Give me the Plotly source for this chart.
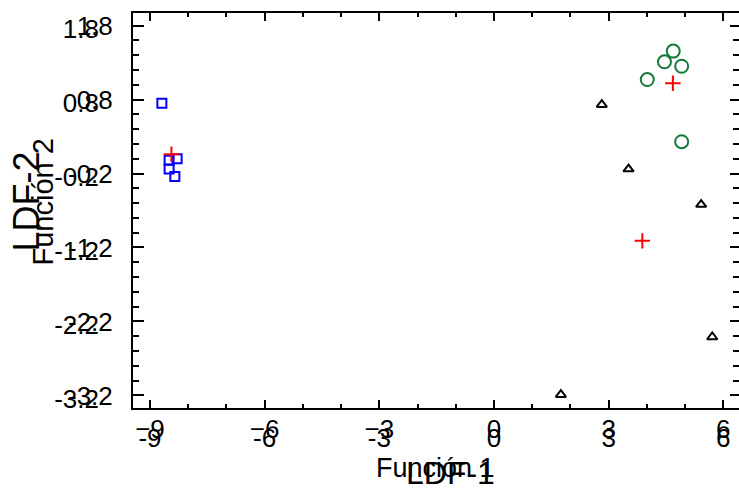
import plotly.graph_objects as go

# ---- data ----
g1_x = [-8.69, -8.29, -8.50, -8.50, -8.35]
g1_y = [0.75, 0.00, -0.02, -0.14, -0.24]
g2_x = [4.69, 4.46, 4.91, 4.01, 4.91]
g2_y = [1.455, 1.31, 1.25, 1.07, 0.23]
g3_x = [2.82, 3.52, 5.42, 5.71, 1.75]
g3_y = [0.73, -0.14, -0.62, -2.41, -3.19]
cent_x = [-8.44, 4.68, 3.88]
cent_y = [0.06, 1.02, -1.11]

x_ticks = [-9, -6, -3, 0, 3, 6]
x_text_a = ["\u22129", "\u22126", "\u22123", "0", "3", "6"]
x_text_b = ["-9", "-6", "-3", "0", "3", "6"]
y_ticks = [1.8, 0.8, -0.2, -1.2, -2.2, -3.2]
y_text_a = ["1.8", "0.8", "-0.2", "-1.2", "-2.2", "-3.2"]
y_text_b = ["1.8", "0.8", "-0.2", "-1.2", "-2.2", "-3.2"]

x_title_a = "LDF-1"
x_title_b = "Función 1"
y_title_a = "LDF-2"
y_title_b = "Función 2"

X_RANGE = [-9.445, 6.41]
Y_RANGE = [-3.37, 1.97]
FONT = "Liberation Sans, Arial, sans-serif"

fig = go.Figure()
fig.add_trace(go.Scatter(x=g1_x, y=g1_y, mode="markers",
                         marker=dict(symbol="square-open", size=9, color="#0000ff",
                                     line=dict(width=2, color="#0000ff"))))
fig.add_trace(go.Scatter(x=g2_x, y=g2_y, mode="markers",
                         marker=dict(symbol="circle-open", size=13, color="#137a3a",
                                     line=dict(width=2, color="#137a3a"))))
fig.add_trace(go.Scatter(x=g3_x, y=g3_y, mode="markers",
                         marker=dict(symbol="triangle-up-open", size=9, color="#000000",
                                     line=dict(width=2, color="#000000"))))
fig.add_trace(go.Scatter(x=cent_x, y=cent_y, mode="markers",
                         marker=dict(symbol="cross-thin-open", size=11, color="#ff0000",
                                     line=dict(width=2, color="#ff0000"))))

fig.update_layout(
    width=739, height=488,
    margin=dict(l=133, r=0, t=13, b=80),
    paper_bgcolor="white", plot_bgcolor="white",
    showlegend=False,
    font=dict(family=FONT, color="black"),
    xaxis=dict(range=X_RANGE, showgrid=False, zeroline=False,
               showline=True, linewidth=2, linecolor="black", mirror="ticks",
               ticks="inside", ticklen=8, tickwidth=2, tickcolor="black",
               tickvals=x_ticks, ticktext=x_text_a,
               tickfont=dict(size=26, family=FONT),
               ticklabelstandoff=-3,
               minor=dict(ticks="inside", dtick=1, ticklen=4, tickwidth=2, tickcolor="black")),
    xaxis2=dict(range=X_RANGE, overlaying="x", side="bottom", anchor="y",
                showgrid=False, zeroline=False, showline=False, ticks="",
                tickvals=x_ticks, ticktext=x_text_b,
                tickfont=dict(size=26, family=FONT),
                ticklabelstandoff=12),
    yaxis=dict(range=Y_RANGE, showgrid=False, zeroline=False,
               showline=True, linewidth=2, linecolor="black",
               ticks="inside", ticklen=11, tickwidth=2, tickcolor="black",
               tickvals=y_ticks, ticktext=y_text_a,
               tickfont=dict(size=26, family=FONT),
               ticklabelstandoff=13,
               minor=dict(ticks="inside", dtick=0.2, ticklen=6, tickwidth=2, tickcolor="black")),
    yaxis2=dict(range=Y_RANGE, overlaying="y", side="left", anchor="x",
                showgrid=False, zeroline=False, showline=False, ticks="",
                tickvals=y_ticks, ticktext=y_text_b,
                tickfont=dict(size=26, family=FONT),
                ticklabelstandoff=33, ticklabelshift=3),
    yaxis3=dict(range=Y_RANGE, overlaying="y", side="right", anchor="x",
                showgrid=False, zeroline=False, showline=False,
                ticks="inside", ticklen=9, tickwidth=2, tickcolor="black",
                tickvals=y_ticks, showticklabels=False,
                minor=dict(ticks="inside", dtick=0.2, ticklen=6, tickwidth=2, tickcolor="black")),
)

# invisible helpers to activate overlay axes
fig.add_trace(go.Scatter(x=[X_RANGE[0]], y=[Y_RANGE[0]], xaxis="x2", yaxis="y2",
                         mode="markers", marker=dict(opacity=0), hoverinfo="skip"))
fig.add_trace(go.Scatter(x=[X_RANGE[0]], y=[Y_RANGE[0]], xaxis="x", yaxis="y3",
                         mode="markers", marker=dict(opacity=0), hoverinfo="skip"))

fig.add_annotation(text=x_title_b, xref="paper", yref="paper", x=0.5, y=0,
                   xshift=-1, yshift=-60, xanchor="center", yanchor="middle", showarrow=False,
                   font=dict(size=27, family=FONT))
fig.add_annotation(text=x_title_a, xref="paper", yref="paper", x=0.5, y=0,
                   xshift=14, yshift=-65, xanchor="center", yanchor="middle", showarrow=False,
                   font=dict(size=32, family=FONT))
fig.add_annotation(text=y_title_a, xref="paper", yref="paper", x=0, y=0.5,
                   xshift=-107, yshift=9, xanchor="center", yanchor="middle", showarrow=False,
                   textangle=-90, font=dict(size=36, family=FONT))
fig.add_annotation(text=y_title_b, xref="paper", yref="paper", x=0, y=0.5,
                   xshift=-91, yshift=8, xanchor="center", yanchor="middle", showarrow=False,
                   textangle=-90, font=dict(size=29, family=FONT))

fig.write_html("out.html")
